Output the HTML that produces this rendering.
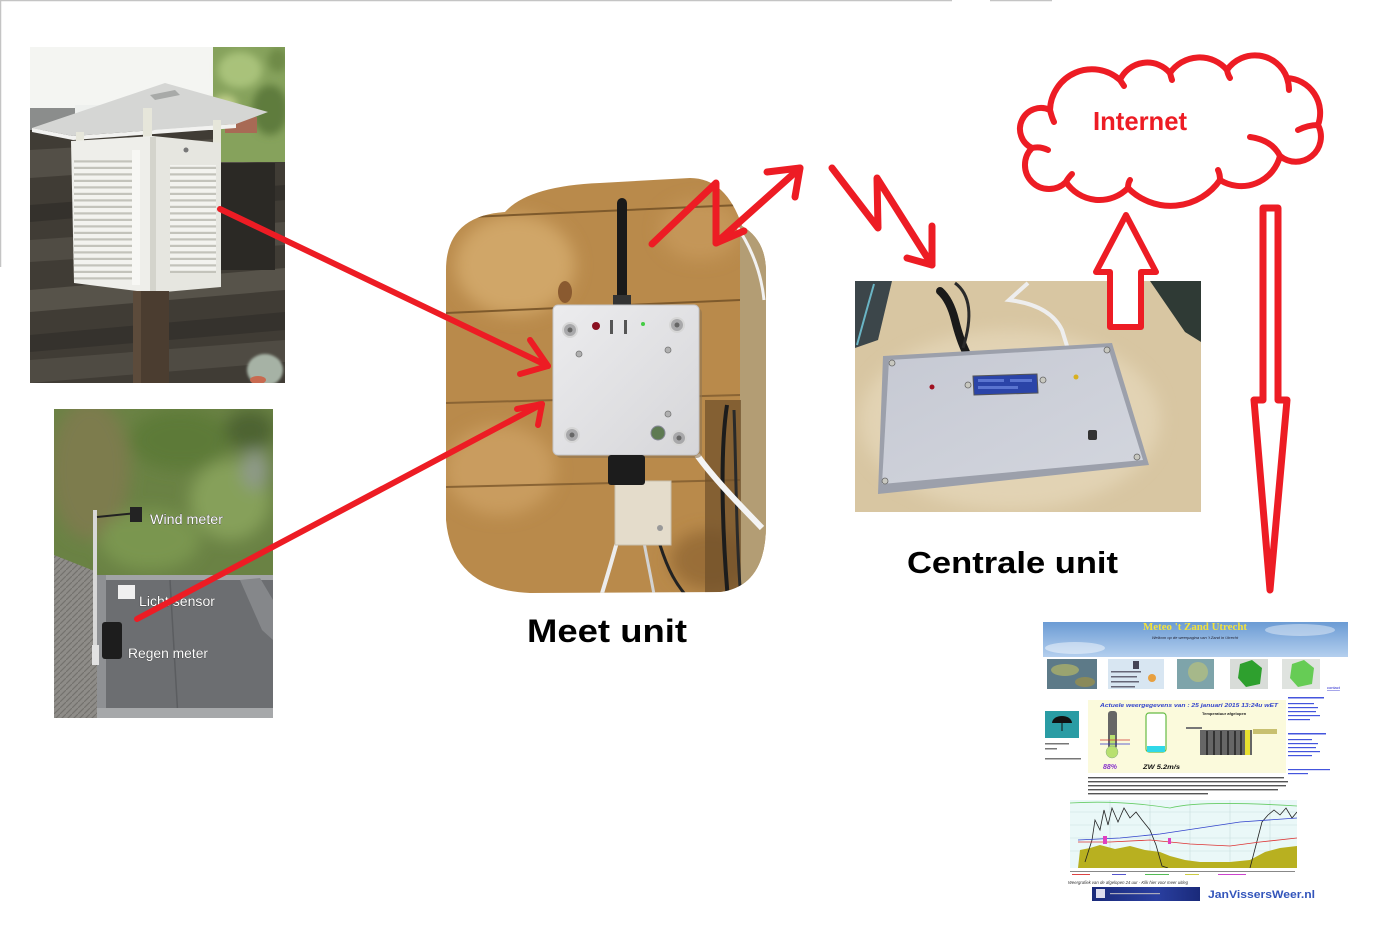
<!DOCTYPE html>
<html><head><meta charset="utf-8">
<style>
html,body{margin:0;padding:0;background:#fff;width:1388px;height:940px;overflow:hidden}
svg{display:block}
</style></head><body>
<svg width="1388" height="940" viewBox="0 0 1388 940" xmlns="http://www.w3.org/2000/svg">
<defs>
 <filter id="b1" x="-20%" y="-20%" width="140%" height="140%"><feGaussianBlur stdDeviation="1.2"/></filter>
 <filter id="b3" x="-30%" y="-30%" width="160%" height="160%"><feGaussianBlur stdDeviation="4"/></filter>
 <filter id="b6" x="-30%" y="-30%" width="160%" height="160%"><feGaussianBlur stdDeviation="8"/></filter>
 <clipPath id="cStev"><rect x="30" y="47" width="255" height="336"/></clipPath>
 <clipPath id="cGard"><rect x="54" y="409" width="219" height="309"/></clipPath>
 <clipPath id="cWood"><path d="M446,270 Q446,216 505,212 Q528,186 600,183 L690,178 Q726,178 742,226 Q766,240 766,272 L766,525 Q766,586 720,592 L530,593 Q452,590 446,520 Z"/></clipPath>
 <clipPath id="cCent"><rect x="855" y="281" width="346" height="231"/></clipPath>
 <clipPath id="cChart"><rect x="1070" y="800" width="227" height="68"/></clipPath>
 <linearGradient id="gSky" x1="0" y1="0" x2="0" y2="1"><stop offset="0" stop-color="#6b9bd4"/><stop offset="1" stop-color="#b4cfee"/></linearGradient>
 <linearGradient id="gBox" x1="0" y1="0" x2="1" y2="1"><stop offset="0" stop-color="#ececee"/><stop offset="1" stop-color="#d6d6d9"/></linearGradient>
 <linearGradient id="gLid" x1="0" y1="0" x2="1" y2="1"><stop offset="0" stop-color="#c6c9d3"/><stop offset="1" stop-color="#d3d6de"/></linearGradient>
 <linearGradient id="gBan" x1="0" y1="0" x2="1" y2="0"><stop offset="0" stop-color="#1a2a7a"/><stop offset="0.6" stop-color="#2a3fa0"/><stop offset="1" stop-color="#1a2a7a"/></linearGradient>
 <pattern id="louv" width="10" height="6.5" patternUnits="userSpaceOnUse"><rect width="10" height="6.5" fill="#f3f3ef"/><rect y="4.3" width="10" height="2.2" fill="#c3c3bb"/></pattern>
 <pattern id="pave" width="6" height="6" patternUnits="userSpaceOnUse"><rect width="6" height="6" fill="#8e8c88"/><path d="M0,6 L6,0" stroke="#74726e" stroke-width="1.2"/></pattern>
</defs>

<!-- top/left faint borders -->
<line x1="0" y1="0.5" x2="952" y2="0.5" stroke="#c4c4c4" stroke-width="1.5"/>
<line x1="990" y1="0.5" x2="1052" y2="0.5" stroke="#c4c4c4" stroke-width="1.5"/>
<line x1="0.5" y1="0" x2="0.5" y2="267" stroke="#c4c4c4" stroke-width="1.5"/>

<!-- ============ Stevenson screen photo ============ -->
<g clip-path="url(#cStev)">
 <rect x="30" y="47" width="255" height="336" fill="#403c35"/>
 <polygon points="30,150 285,135 285,160 30,178" fill="#534f47"/>
 <polygon points="30,205 285,185 285,200 30,222" fill="#34312c"/>
 <polygon points="30,240 285,222 285,245 30,262" fill="#504c44"/>
 <polygon points="30,290 285,268 285,290 30,312" fill="#57534a"/>
 <polygon points="30,335 285,312 285,330 30,352" fill="#35322d"/>
 <polygon points="30,360 285,340 285,362 30,383" fill="#4f4b43"/>
 <rect x="30" y="47" width="190" height="62" fill="#f4f5f2"/>
 <rect x="30" y="108" width="45" height="22" fill="#8b8d8c"/>
 <rect x="75" y="105" width="140" height="25" fill="#eef0ee"/>
 <rect x="213" y="47" width="72" height="115" fill="#86a25c"/>
 <g filter="url(#b3)">
  <ellipse cx="240" cy="70" rx="22" ry="18" fill="#a9c27a"/>
  <ellipse cx="270" cy="110" rx="18" ry="25" fill="#5f7c3c"/>
  <ellipse cx="225" cy="105" rx="12" ry="10" fill="#c0cf8a"/>
  <ellipse cx="278" cy="60" rx="10" ry="12" fill="#6e8a46"/>
 </g>
 <rect x="225" y="117" width="32" height="16" fill="#a86a55"/>
 <polygon points="32,128 165,83 268,112 236,124 73,136" fill="#d5d6d4"/>
 <polygon points="32,128 73,136 236,124 236,128 73,140 32,132" fill="#f2f2f0"/>
 <polygon points="150,95 175,90 180,95 155,100" fill="#a8aaa8"/>
 <rect x="76" y="132" width="8" height="12" fill="#e6e6da"/>
 <rect x="143" y="108" width="9" height="30" fill="#e6e6da"/>
 <rect x="213" y="120" width="8" height="24" fill="#e6e6da"/>
 <polygon points="71,141 153,136 153,293 74,283" fill="#eeeeea"/>
 <polygon points="153,136 221,143 221,287 153,293" fill="#e6e6e0"/>
 <rect x="74" y="160" width="58" height="120" fill="url(#louv)"/>
 <rect x="170" y="165" width="46" height="108" fill="url(#louv)"/>
 <rect x="132" y="150" width="8" height="135" fill="#f7f7f4"/>
 <rect x="150" y="137" width="6" height="155" fill="#d4d4cc"/>
 <circle cx="186" cy="150" r="2.5" fill="#777"/>
 <rect x="221" y="163" width="54" height="107" fill="#2b2925"/>
 <rect x="133" y="291" width="36" height="92" fill="#4b3d30"/>
 <rect x="133" y="291" width="8" height="92" fill="#5c4b3b"/>
 <ellipse cx="265" cy="370" rx="18" ry="16" fill="#a6b2a5" filter="url(#b1)"/>
 <ellipse cx="258" cy="380" rx="8" ry="4" fill="#c86a50"/>
</g>

<!-- ============ Garden photo ============ -->
<g clip-path="url(#cGard)">
 <rect x="54" y="409" width="219" height="309" fill="#6a8244"/>
 <g filter="url(#b6)">
  <ellipse cx="90" cy="470" rx="40" ry="70" fill="#7d7b4e"/>
  <ellipse cx="180" cy="440" rx="50" ry="30" fill="#5d7a38"/>
  <ellipse cx="230" cy="500" rx="40" ry="40" fill="#86a05a"/>
  <ellipse cx="150" cy="540" rx="50" ry="30" fill="#7a9650"/>
  <ellipse cx="250" cy="430" rx="25" ry="20" fill="#4e6430"/>
  <ellipse cx="255" cy="470" rx="14" ry="20" fill="#8e9a88"/>
 </g>
 <polygon points="54,555 97,572 97,718 54,718" fill="url(#pave)"/>
 <rect x="97" y="575" width="176" height="143" fill="#6c6e71"/>
 <rect x="97" y="575" width="176" height="5" fill="#a2a4a6"/>
 <rect x="97" y="575" width="9" height="143" fill="#8f9194"/>
 <line x1="170" y1="580" x2="178" y2="718" stroke="#5b5d60" stroke-width="1.5"/>
 <polygon points="240,580 260,578 273,600 273,640 262,630" fill="#85878a"/>
 <rect x="97" y="708" width="176" height="10" fill="#a6a8aa"/>
 <rect x="93" y="510" width="4" height="153" fill="#d8d8d8"/>
 <path d="M97,517 L137,513" stroke="#222" stroke-width="2"/>
 <rect x="130" y="507" width="12" height="15" fill="#232323"/>
 <rect x="118" y="585" width="17" height="14" fill="#f0f0f0"/>
 <rect x="102" y="622" width="20" height="37" rx="3" fill="#1d1d1d"/>
 <rect x="92" y="645" width="7" height="20" fill="#e2e2e2"/>
 <g font-family="Liberation Sans, sans-serif" font-size="14" fill="#fff" stroke="#333" stroke-width="0.6" paint-order="stroke">
  <text x="150" y="524" textLength="73" lengthAdjust="spacingAndGlyphs">Wind meter</text>
  <text x="139" y="606" textLength="76" lengthAdjust="spacingAndGlyphs">Licht sensor</text>
  <text x="128" y="658" textLength="80" lengthAdjust="spacingAndGlyphs">Regen meter</text>
 </g>
</g>

<!-- ============ Meet unit photo ============ -->
<g clip-path="url(#cWood)">
 <rect x="440" y="170" width="330" height="430" fill="#b98a4b"/>
 <g filter="url(#b6)">
  <ellipse cx="515" cy="265" rx="60" ry="50" fill="#d0a668"/>
  <ellipse cx="500" cy="470" rx="55" ry="45" fill="#c99c5e"/>
  <ellipse cx="700" cy="230" rx="40" ry="30" fill="#c49658"/>
  <ellipse cx="710" cy="560" rx="40" ry="30" fill="#9a6e38"/>
 </g>
 <path d="M446,218 L740,205" stroke="#7e5a2c" stroke-width="2"/>
 <path d="M446,313 L740,300" stroke="#7e5a2c" stroke-width="2"/>
 <path d="M446,403 L740,395" stroke="#8a6434" stroke-width="2"/>
 <path d="M446,487 L740,480" stroke="#8a6434" stroke-width="2"/>
 <ellipse cx="565" cy="292" rx="7" ry="11" fill="#8a5a30"/>
 <rect x="740" y="215" width="30" height="385" fill="#b39d74"/>
 <path d="M736,225 Q760,260 764,300" stroke="#f2f2f2" stroke-width="3" fill="none"/>
 <rect x="705" y="400" width="36" height="195" fill="#6d4e2a" opacity="0.7"/>
 <path d="M727,405 C720,450 722,530 728,600" stroke="#1c1c1c" stroke-width="4" fill="none"/>
 <path d="M734,410 C736,460 736,540 741,600" stroke="#2a2a2a" stroke-width="3" fill="none"/>
 <path d="M697,455 C715,480 740,505 762,528" stroke="#f4f4f4" stroke-width="6" fill="none"/>
 <path d="M628,485 C625,520 612,560 600,600" stroke="#ececec" stroke-width="4" fill="none"/>
 <path d="M636,485 C640,530 648,560 655,600" stroke="#d2d2d2" stroke-width="3" fill="none"/>
 <path d="M622,500 C612,515 615,530 628,528" stroke="#9a9a9a" stroke-width="3" fill="none"/>
 <path d="M660,545 C668,570 676,585 690,600" stroke="#222" stroke-width="3" fill="none"/>
 <rect x="615" y="481" width="56" height="64" fill="#e4dccb" stroke="#c8bfae"/>
 <circle cx="660" cy="528" r="3" fill="#999"/>
 <rect x="617" y="198" width="10" height="108" rx="5" fill="#1a1a1a"/>
 <rect x="613" y="295" width="18" height="12" fill="#333"/>
 <rect x="556" y="308" width="146" height="150" rx="5" fill="#8f7450" opacity="0.6"/>
 <rect x="553" y="305" width="146" height="150" rx="5" fill="url(#gBox)" stroke="#c4c4c6"/>
 <g fill="#a8a8aa" stroke="#d6d6d6" stroke-width="2">
  <circle cx="570" cy="330" r="7"/><circle cx="677" cy="325" r="7"/>
  <circle cx="572" cy="435" r="7"/><circle cx="679" cy="438" r="7"/>
 </g>
 <g fill="#666"><circle cx="570" cy="330" r="2.5"/><circle cx="677" cy="325" r="2.5"/><circle cx="572" cy="435" r="2.5"/><circle cx="679" cy="438" r="2.5"/></g>
 <g fill="#b0b0b0" stroke="#777" stroke-width="0.8">
  <circle cx="579" cy="354" r="3"/><circle cx="668" cy="350" r="3"/><circle cx="668" cy="414" r="3"/>
 </g>
 <circle cx="596" cy="326" r="4" fill="#8a1020"/>
 <circle cx="643" cy="324" r="2" fill="#44cc44"/>
 <rect x="610" y="320" width="3" height="14" fill="#555"/>
 <rect x="624" y="320" width="3" height="14" fill="#555"/>
 <circle cx="658" cy="433" r="7" fill="#5e7a52" stroke="#889" stroke-width="1"/>
 <rect x="608" y="455" width="37" height="30" rx="3" fill="#1c1c1c"/>
</g>

<!-- ============ Centrale unit photo ============ -->
<g clip-path="url(#cCent)">
 <rect x="855" y="281" width="346" height="231" fill="#d8c6a2"/>
 <ellipse cx="1010" cy="420" rx="150" ry="90" fill="#e2d3b4" filter="url(#b6)"/>
 <polygon points="855,281 892,281 878,340 855,348" fill="#3c464a"/>
 <path d="M874,284 Q866,312 857,345" stroke="#6ab5c5" stroke-width="2" fill="none"/>
 <polygon points="1150,281 1201,281 1201,342 1185,332" fill="#2f3a35"/>
 <path d="M940,291 Q950,300 955,320 Q960,340 966,352" stroke="#1a1a1a" stroke-width="8" fill="none" stroke-linecap="round"/>
 <path d="M955,283 Q978,300 963,348" stroke="#2a2a2a" stroke-width="3" fill="none"/>
 <path d="M1028,283 L1009,300 Q1050,305 1062,330 L1067,346" stroke="#eeeeee" stroke-width="4" fill="none"/>
 <polygon points="883,356 1112,343 1149,465 878,494" fill="#9ca0ab"/>
 <polygon points="889,360 1108,347 1143,460 882,484" fill="url(#gLid)"/>
 <polygon points="973,376 1037,374 1038,393 974,395" fill="#2b44a8" stroke="#555" stroke-width="1"/>
 <rect x="978" y="379" width="26" height="3" fill="#5a74d0"/><rect x="1010" y="379" width="22" height="3" fill="#5a74d0"/>
 <rect x="978" y="386" width="40" height="3" fill="#5a74d0"/>
 <circle cx="932" cy="387" r="2.5" fill="#a01020"/>
 <circle cx="1076" cy="377" r="2.5" fill="#d8b020"/>
 <g fill="#c8c8c0" stroke="#666" stroke-width="0.8">
  <circle cx="892" cy="363" r="3"/><circle cx="1107" cy="350" r="3"/><circle cx="1137" cy="457" r="3"/>
  <circle cx="885" cy="481" r="3"/><circle cx="968" cy="385" r="3"/><circle cx="1043" cy="380" r="3"/>
 </g>
 <rect x="1088" y="430" width="9" height="10" rx="2" fill="#333"/>
</g>

<!-- ============ Website screenshot ============ -->
<g>
 <rect x="1043" y="622" width="305" height="35" fill="url(#gSky)"/>
 <ellipse cx="1075" cy="648" rx="30" ry="6" fill="#fff" opacity="0.45"/>
 <ellipse cx="1300" cy="630" rx="35" ry="6" fill="#fff" opacity="0.4"/>
 <text x="1195" y="630" text-anchor="middle" font-family="Liberation Serif, serif" font-weight="bold" font-size="10" fill="#f4e23a" textLength="104" lengthAdjust="spacingAndGlyphs">Meteo 't Zand Utrecht</text>
 <text x="1195" y="639" text-anchor="middle" font-family="Liberation Sans, sans-serif" font-style="italic" font-size="4" fill="#223">Welkom op de weerpagina van 't Zand in Utrecht</text>
 <rect x="1047" y="659" width="50" height="30" fill="#5d7a88"/>
 <ellipse cx="1065" cy="670" rx="14" ry="6" fill="#9aa470"/><ellipse cx="1085" cy="682" rx="10" ry="5" fill="#8a8a5a"/>
 <rect x="1108" y="659" width="56" height="30" fill="#d8e6f2"/>
 <rect x="1133" y="661" width="6" height="8" fill="#445"/>
 <g fill="#667"><rect x="1111" y="671" width="30" height="1.5"/><rect x="1111" y="676" width="26" height="1.5"/><rect x="1111" y="681" width="28" height="1.5"/><rect x="1111" y="686" width="24" height="1.5"/></g>
 <circle cx="1152" cy="678" r="4" fill="#e8a040"/>
 <rect x="1177" y="659" width="37" height="30" fill="#7ea4aa"/>
 <ellipse cx="1198" cy="672" rx="10" ry="10" fill="#a6b88a"/>
 <rect x="1230" y="659" width="38" height="30" fill="#d8dcd8"/>
 <polygon points="1238,678 1240,664 1252,660 1262,668 1260,684 1246,687" fill="#2ea02e"/>
 <rect x="1282" y="659" width="38" height="30" fill="#dfe3df"/>
 <polygon points="1290,678 1292,664 1304,660 1314,668 1312,684 1298,687" fill="#66cc55"/>
 <text x="1327" y="689" font-family="Liberation Sans, sans-serif" font-size="4" fill="#22c" text-decoration="underline">contact</text>
 <rect x="1088" y="700" width="198" height="73" fill="#fbfadc"/>
 <text x="1100" y="707" font-family="Liberation Sans, sans-serif" font-style="italic" font-weight="bold" font-size="5.5" fill="#3344cc" textLength="178" lengthAdjust="spacingAndGlyphs">Actuele weergegevens van : 25 januari 2015   13:24u wET</text>
 <rect x="1108" y="711" width="9" height="38" rx="3" fill="#666"/>
 <rect x="1110" y="735" width="5" height="14" fill="#b8e070"/>
 <circle cx="1112" cy="752" r="6" fill="#b8e070" stroke="#8a8" stroke-width="0.5"/>
 <line x1="1100" y1="740" x2="1130" y2="740" stroke="#c33" stroke-width="0.8"/>
 <line x1="1100" y1="744" x2="1130" y2="744" stroke="#33c" stroke-width="0.8"/>
 <text x="1103" y="769" font-family="Liberation Sans, sans-serif" font-style="italic" font-weight="bold" font-size="7" fill="#8833cc">88%</text>
 <rect x="1146" y="713" width="20" height="39" rx="3" fill="#fff" stroke="#66bb44" stroke-width="1.2"/>
 <rect x="1147" y="746" width="18" height="6" fill="#30d8e8"/>
 <text x="1143" y="769" font-family="Liberation Sans, sans-serif" font-style="italic" font-weight="bold" font-size="6.5" fill="#111" textLength="37" lengthAdjust="spacingAndGlyphs">ZW 5.2m/s</text>
 <text x="1202" y="715" font-family="Liberation Sans, sans-serif" font-weight="bold" font-size="4" fill="#222">Temperatuur afgelopen</text>
 <rect x="1200" y="730" width="52" height="25" fill="#666"/>
 <g fill="#333"><rect x="1206" y="731" width="2" height="24"/><rect x="1213" y="731" width="2" height="24"/><rect x="1220" y="731" width="2" height="24"/><rect x="1227" y="731" width="2" height="24"/><rect x="1234" y="731" width="2" height="24"/><rect x="1240" y="731" width="2" height="24"/></g>
 <rect x="1245" y="730" width="5" height="25" fill="#e8e030"/>
 <rect x="1253" y="729" width="24" height="5" fill="#c8c070"/>
 <rect x="1186" y="727" width="16" height="2" fill="#777"/>
 <rect x="1045" y="711" width="34" height="27" fill="#2a9ca4"/>
 <path d="M1052,723 A10,7 0 0 1 1072,723 Z" fill="#111"/>
 <line x1="1062" y1="723" x2="1062" y2="731" stroke="#111" stroke-width="1"/>
 <g fill="#777"><rect x="1045" y="743" width="24" height="1.5"/><rect x="1045" y="748" width="12" height="1.5"/><rect x="1045" y="758" width="36" height="1.5"/></g>
 <g fill="#4455dd">
  <rect x="1288" y="697" width="36" height="1.5"/>
  <rect x="1288" y="703" width="26" height="1.2"/><rect x="1288" y="707" width="30" height="1.2"/><rect x="1288" y="711" width="28" height="1.2"/><rect x="1288" y="715" width="32" height="1.2"/><rect x="1288" y="719" width="22" height="1.2"/>
  <rect x="1288" y="733" width="38" height="1.5"/>
  <rect x="1288" y="739" width="24" height="1.2"/><rect x="1288" y="743" width="30" height="1.2"/><rect x="1288" y="747" width="28" height="1.2"/><rect x="1288" y="751" width="32" height="1.2"/><rect x="1288" y="755" width="24" height="1.2"/>
  <rect x="1288" y="769" width="42" height="1.2"/><rect x="1288" y="773" width="20" height="1.2"/>
 </g>
 <g fill="#555">
  <rect x="1088" y="777" width="196" height="1.4"/><rect x="1088" y="781" width="200" height="1.4"/>
  <rect x="1088" y="785" width="198" height="1.4"/><rect x="1088" y="789" width="190" height="1.4"/>
  <rect x="1088" y="793" width="120" height="1.4"/>
 </g>
 <rect x="1070" y="800" width="227" height="68" fill="#eaf8f8"/>
 <g clip-path="url(#cChart)">
  <g stroke="#c8dede" stroke-width="0.6">
   <line x1="1070" y1="812" x2="1297" y2="812"/><line x1="1070" y1="825" x2="1297" y2="825"/><line x1="1070" y1="838" x2="1297" y2="838"/><line x1="1070" y1="851" x2="1297" y2="851"/>
   <line x1="1110" y1="800" x2="1110" y2="868"/><line x1="1150" y1="800" x2="1150" y2="868"/><line x1="1190" y1="800" x2="1190" y2="868"/><line x1="1230" y1="800" x2="1230" y2="868"/><line x1="1270" y1="800" x2="1270" y2="868"/>
  </g>
  <path d="M1070,803 Q1120,800 1170,808 Q1200,800 1297,806" stroke="#66cc66" stroke-width="0.8" fill="none"/>
  <polygon points="1078,868 1080,850 1090,848 1100,845 1115,849 1130,846 1145,850 1160,852 1170,856 1185,860 1200,862 1230,862 1250,860 1265,852 1280,848 1297,846 1297,868" fill="#b8b020"/>
  <polyline points="1085,862 1092,840 1095,820 1100,830 1104,810 1108,825 1112,808 1118,822 1124,808 1130,818 1136,812 1142,820 1150,830 1156,845 1162,866 1168,868" stroke="#222" stroke-width="0.8" fill="none"/>
  <polyline points="1250,868 1256,845 1262,822 1268,815 1274,810 1280,815 1286,808 1292,818 1297,812" stroke="#222" stroke-width="0.8" fill="none"/>
  <polyline points="1078,840 1120,838 1160,834 1200,828 1240,822 1297,818" stroke="#3344cc" stroke-width="0.8" fill="none"/>
  <polyline points="1078,842 1110,842 1150,840 1190,844 1230,846 1260,842 1297,838" stroke="#dd3333" stroke-width="0.8" fill="none"/>
  <rect x="1103" y="836" width="4" height="8" fill="#e040c0"/>
  <rect x="1168" y="838" width="3" height="6" fill="#e040c0"/>
 </g>
 <g fill="#888"><rect x="1070" y="871" width="225" height="1"/></g>
 <g fill="#d44"><rect x="1072" y="874" width="18" height="1"/></g>
 <g fill="#55c"><rect x="1112" y="874" width="14" height="1"/></g>
 <g fill="#5b5"><rect x="1145" y="874" width="24" height="1"/></g>
 <g fill="#cc4"><rect x="1185" y="874" width="14" height="1"/></g>
 <g fill="#c4c"><rect x="1218" y="874" width="28" height="1"/></g>
 <text x="1068" y="884" font-family="Liberation Sans, sans-serif" font-style="italic" font-size="4.2" fill="#333" textLength="120" lengthAdjust="spacingAndGlyphs">Weergrafiek van de afgelopen 24 uur - Klik hier voor meer uitleg</text>
 <rect x="1092" y="887" width="108" height="14" fill="url(#gBan)"/>
 <rect x="1096" y="889" width="9" height="9" fill="#dde"/>
 <rect x="1110" y="893" width="50" height="1.2" fill="#aab"/>
 <text x="1208" y="898" font-family="Liberation Sans, sans-serif" font-weight="bold" font-size="11" fill="#3355bb" textLength="107" lengthAdjust="spacingAndGlyphs">JanVissersWeer.nl</text>
</g>

<!-- ============ Red arrows ============ -->
<g stroke="#ED1C24" stroke-width="6" fill="none" stroke-linecap="round" stroke-linejoin="round">
 <line x1="220" y1="209" x2="548" y2="366"/>
 <polyline points="530,340 548,366 520,374"/>
 <line x1="137" y1="619" x2="542" y2="404"/>
 <polyline points="517,409 542,404 538,425"/>
 <polyline stroke-width="7" points="652,244 716,183 716,243 800,168"/>
 <polyline stroke-width="7" points="767,172 800,168 795,197"/>
 <polyline stroke-width="7" points="716,243 744,231"/>
 <polyline stroke-width="7" points="832,168 878,228 877,178 932,265"/>
 <polyline stroke-width="7" points="907,258 932,265 932,226"/>
 <!-- cloud -->
 <path d="M1050,110 A21,21 0 0 0 1032,148 A24,24 0 0 0 1066,182 A40,40 0 0 0 1128,188 A60,60 0 0 0 1220,180 A40,40 0 0 0 1280,156 A25,25 0 0 0 1318,125 A35,35 0 0 0 1287,78 A34,34 0 0 0 1227,70 A36,36 0 0 0 1170,73 A30,30 0 0 0 1120,80 A42,42 0 0 0 1050,110 Z"/>
 <path d="M1050,110 q2,8 4,12 M1032,148 q8,-2 16,2 M1066,182 q2,-4 6,-8 M1128,188 q0,-5 2,-8 M1220,180 q0,-6 -2,-10 M1250,137 Q1272,140 1280,156 M1318,125 q-10,0 -20,5 M1287,78 q2,6 2,12 M1227,70 q1,5 3,8 M1170,73 q1,4 2,7 M1120,80 q2,3 4,6"/>
 <polygon fill="#fff" points="1126,215 1156,272 1141,272 1141,327 1110,327 1110,272 1096,272"/>
 <polygon fill="#fff" stroke-width="7" points="1263,208 1278,208 1278,400 1287,400 1270,590 1254,400 1263,400"/>
</g>
<text x="1093" y="130" font-family="Liberation Sans, sans-serif" font-weight="bold" font-size="26" fill="#ED1C24" textLength="94" lengthAdjust="spacingAndGlyphs">Internet</text>

<!-- labels -->
<text x="527" y="642" font-family="Liberation Sans, sans-serif" font-weight="bold" font-size="32" fill="#000" textLength="160" lengthAdjust="spacingAndGlyphs">Meet unit</text>
<text x="907" y="573" font-family="Liberation Sans, sans-serif" font-weight="bold" font-size="31" fill="#000" textLength="211" lengthAdjust="spacingAndGlyphs">Centrale unit</text>
</svg>
</body></html>
